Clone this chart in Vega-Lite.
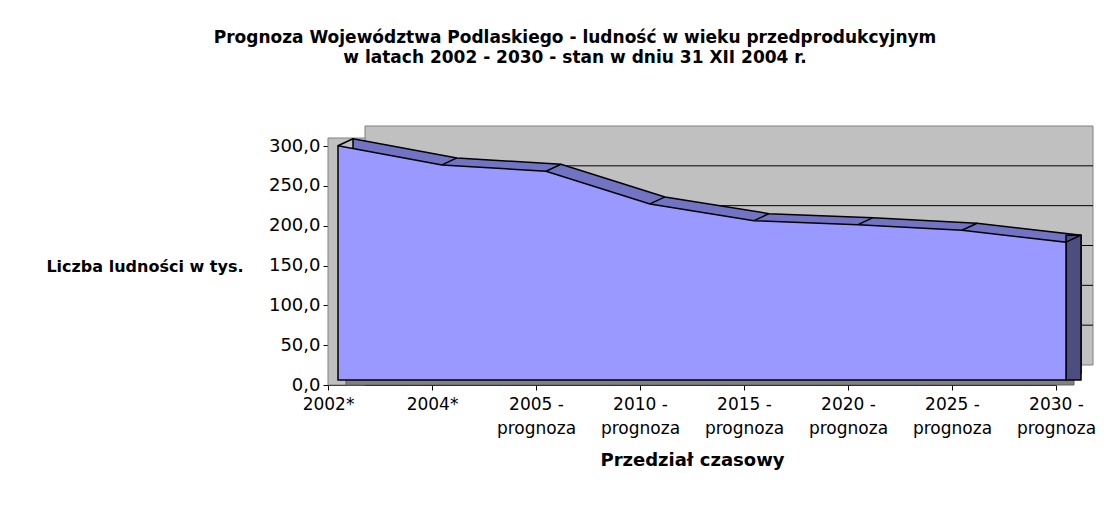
{
  "$schema": "https://vega.github.io/schema/vega-lite/v6.json",
  "autosize": "none",
  "width": 728,
  "height": 239,
  "padding": {"left": 328, "top": 146, "right": 59, "bottom": 132},
  "background": "white",
  "config": {"view": {"stroke": null}},
  "title": {
    "text": ["Prognoza Województwa Podlaskiego  - ludność w wieku przedprodukcyjnym", "w latach 2002 - 2030 - stan w dniu 31 XII 2004 r."],
    "font": "DejaVu Sans",
    "fontSize": 17,
    "fontWeight": "bold",
    "lineHeight": 20,
    "anchor": "middle",
    "frame": "group",
    "dx": -117,
    "offset": 57,
    "color": "black"
  },
  "data": {
    "values": [
      {"cat": "2002*", "value": 294},
      {"cat": "2004*", "value": 270},
      {"cat": "2005 - prognoza", "value": 262},
      {"cat": "2010 - prognoza", "value": 221},
      {"cat": "2015 - prognoza", "value": 200},
      {"cat": "2020 - prognoza", "value": 195},
      {"cat": "2025 - prognoza", "value": 188},
      {"cat": "2030 - prognoza", "value": 173}
    ]
  },
  "encoding": {
    "x": {
      "field": "cat", "type": "nominal", "sort": null,
      "scale": {"type": "point", "padding": 0, "domain": ["2002*", "2004*", "2005 - prognoza", "2010 - prognoza", "2015 - prognoza", "2020 - prognoza", "2025 - prognoza", "2030 - prognoza"]},
      "axis": {
        "title": "Przedział czasowy",
        "titleFont": "DejaVu Sans", "titleFontSize": 18, "titleFontWeight": "bold", "titleColor": "black",
        "titleBaseline": "middle", "titleY": 75,
        "labelFont": "DejaVu Sans", "labelFontSize": 17, "labelColor": "black",
        "labelAngle": 0, "labelLineHeight": 24, "labelPadding": 6,
        "labelExpr": "indexof(datum.value, ' - ') > 0 ? [slice(datum.value, 0, 6), 'prognoza'] : datum.value",
        "domainColor": "black", "tickColor": "black", "tickSize": 5, "grid": false
      }
    },
    "y": {
      "field": "value", "type": "quantitative",
      "scale": {"domain": [0, 300], "nice": false, "zero": true},
      "axis": {
        "title": "Liczba ludności w tys.",
        "titleFont": "DejaVu Sans", "titleFontSize": 16, "titleFontWeight": "bold", "titleColor": "black",
        "titleAngle": 0, "titleAlign": "right", "titleBaseline": "middle", "titleX": -85, "titleY": 120,
        "values": [0, 50, 100, 150, 200, 250, 300],
        "labelExpr": "replace(format(datum.value, '.1f'), '.', ',')",
        "labelFont": "DejaVu Sans", "labelFontSize": 18, "labelColor": "black", "labelPadding": 3,
        "domainColor": "black", "tickColor": "black", "tickSize": 5, "grid": false
      }
    }
  },
  "layer": [
    {
      "mark": {"type": "area", "fill": "#C0C0C0", "stroke": "#808080", "strokeWidth": 1, "xOffset": 37, "yOffset": -20, "y2Offset": -20},
      "encoding": {"y": {"datum": 300}, "y2": {"datum": 0}}
    },
    {
      "data": {"values": [{"g": 50}, {"g": 100}, {"g": 150}, {"g": 200}, {"g": 250}]},
      "mark": {"type": "rule", "stroke": "black", "strokeWidth": 1, "xOffset": 37, "x2Offset": 37, "yOffset": -20, "y2Offset": -20},
      "encoding": {"x": {"datum": "2002*"}, "x2": {"datum": "2030 - prognoza"}, "y": {"field": "g", "type": "quantitative"}}
    },
    {
      "transform": [{"filter": "datum.cat == '2002*'"}],
      "mark": {"type": "rect", "fill": "#C0C0C0", "stroke": "#808080", "strokeWidth": 1, "x2Offset": 37, "y2Offset": -8},
      "encoding": {"x2": {"field": "cat"}, "y": {"datum": 0}, "y2": {"datum": 300}}
    },
    {
      "mark": {"type": "area", "fill": "#808080", "stroke": "#606060", "strokeWidth": 1, "xOffset": 18, "y2Offset": -20},
      "encoding": {"y": {"datum": 0}, "y2": {"datum": 0}}
    },
    {
      "mark": {"type": "area", "fill": "#7373C4", "stroke": "black", "strokeWidth": 1.5, "xOffset": 25, "yOffset": -12, "y2Offset": -12}
    },
    {
      "transform": [{"filter": "datum.cat == '2030 - prognoza'"}],
      "mark": {"type": "rect", "fill": "#4D4D80", "stroke": "black", "strokeWidth": 1.5, "xOffset": 10, "x2Offset": 25, "yOffset": -12, "y2Offset": -5},
      "encoding": {"x2": {"field": "cat"}, "y2": {"datum": 0}}
    },
    {
      "mark": {"type": "rule", "stroke": "black", "strokeWidth": 1.5, "xOffset": 10, "yOffset": -5, "x2Offset": 25, "y2Offset": -12},
      "encoding": {"x2": {"field": "cat"}, "y2": {"field": "value"}}
    },
    {
      "mark": {"type": "area", "fill": "#9999FF", "stroke": "black", "strokeWidth": 1.5, "xOffset": 10, "yOffset": -5, "y2Offset": -5}
    }
  ]
}
